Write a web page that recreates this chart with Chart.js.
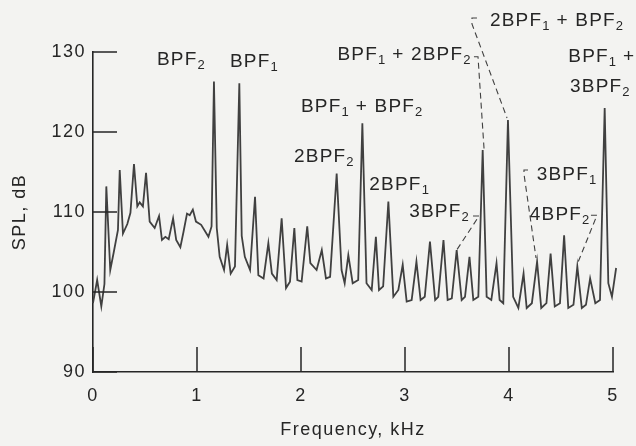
<!DOCTYPE html>
<html>
<head>
<meta charset="utf-8">
<script src="https://cdn.jsdelivr.net/npm/chart.js@4.4.1/dist/chart.umd.min.js"></script>
<style>
  html, body { margin: 0; padding: 0; background: #f3f3f1; }
  canvas { display: block; }
</style>
</head>
<body>
<canvas id="spectrum" width="636" height="446"></canvas>
<script>
// ── Spectrum data ────────────────────────────────────────────────────────────
const freqKHz = [
  0.00, 0.04, 0.08, 0.11, 0.128, 0.166, 0.20, 0.24, 0.257, 0.288,
  0.33, 0.36, 0.394, 0.426, 0.449, 0.48, 0.51, 0.545, 0.593, 0.635,
  0.663, 0.696, 0.728, 0.77, 0.80, 0.84, 0.87, 0.904, 0.93, 0.96,
  0.99, 1.04, 1.11, 1.14, 1.163, 1.19, 1.218, 1.26, 1.29, 1.324,
  1.365, 1.407, 1.43, 1.46, 1.51, 1.558, 1.59, 1.64, 1.686, 1.72,
  1.766, 1.814, 1.856, 1.894, 1.936, 1.965, 2.006, 2.06, 2.09, 2.15,
  2.20, 2.24, 2.28, 2.343, 2.39, 2.42, 2.455, 2.497, 2.55, 2.59,
  2.63, 2.68, 2.72, 2.75, 2.79, 2.84, 2.888, 2.936, 2.978, 3.016,
  3.064, 3.11, 3.15, 3.19, 3.24, 3.29, 3.32, 3.37, 3.41, 3.45,
  3.497, 3.545, 3.577, 3.62, 3.657, 3.705, 3.747, 3.785, 3.83, 3.88,
  3.91, 3.945, 3.99, 4.04, 4.09, 4.14, 4.17, 4.22, 4.27, 4.31,
  4.36, 4.40, 4.44, 4.49, 4.53, 4.57, 4.62, 4.657, 4.70, 4.74,
  4.78, 4.83, 4.875, 4.92, 4.955, 4.99, 5.03
];
const splDb = [
  98.6, 101.5, 98.2, 101.0, 113.2, 102.75, 105.0, 107.75, 115.25, 107.3,
  108.5, 109.9, 116.0, 110.7, 111.2, 110.7, 114.9, 108.8, 108.0, 109.5,
  106.5, 106.9, 106.6, 109.2, 106.5, 105.6, 107.5, 109.8, 109.6, 110.3,
  108.8, 108.4, 106.9, 108.2, 126.3, 108.0, 104.4, 102.75, 105.9, 102.3,
  103.2, 126.1, 107.0, 104.4, 102.75, 111.9, 102.1, 101.7, 106.1, 102.3,
  101.5, 109.2, 100.5, 101.3, 108.0, 101.5, 101.3, 108.2, 103.6, 102.75,
  105.25, 101.7, 101.9, 114.8, 102.75, 101.1, 104.6, 101.1, 101.5, 121.1,
  101.1, 100.25, 106.9, 100.25, 100.7, 111.3, 99.4, 100.25, 103.4, 98.8,
  99.0, 103.8, 99.0, 99.4, 106.3, 99.0, 99.4, 106.5, 99.0, 99.2,
  105.25, 99.0, 99.4, 104.4, 99.0, 99.4, 117.75, 99.4, 99.0, 103.6,
  99.0, 98.6, 121.5, 99.4, 98.0, 102.3, 98.0, 98.6, 103.8, 98.0,
  98.6, 104.8, 98.2, 98.6, 107.1, 98.0, 98.4, 103.2, 98.0, 98.4,
  101.7, 98.6, 99.0, 123.0, 101.1, 99.4, 103.0
];
const xTicks = [0, 1, 2, 3, 4, 5];
const yTicks = [90, 100, 110, 120, 130];

// ── Peak annotations: text ("_n" = subscript), anchor in data units ─────────
const peakLabels = [
  'BPF_2', 'BPF_1', 'BPF_1 + BPF_2', '2BPF_2', '2BPF_1', '3BPF_2',
  'BPF_1 + 2BPF_2', '2BPF_1 + BPF_2', 'BPF_1 +', '3BPF_2', '3BPF_1', '4BPF_2'
];
const labelX = [0.615, 1.317, 2.0, 1.933, 2.657, 3.04, 2.35, 3.817, 4.57, 4.587, 4.266, 4.20];
const labelY = [128.4, 128.1, 122.5, 116.3, 112.75, 109.4, 129.0, 133.2, 128.8, 125.0, 114.0, 109.0];

// Dashed leader lines from labels down to their peaks (data units)
const leaders = [
  [[3.654, 109.5], [3.712, 109.5], [3.50, 105.3]],
  [[3.663, 129.4], [3.702, 129.4], [3.76, 117.9]],
  [[3.692, 134.25], [3.644, 134.25], [3.644, 133.5], [3.981, 121.75]],
  [[4.183, 115.25], [4.144, 115.25], [4.144, 114.75], [4.26, 104.25]],
  [[4.788, 109.6], [4.846, 109.6], [4.654, 103.4]]
];

// ── Styles ──────────────────────────────────────────────────────────────────
const INK = '#262626';
const LINE = '#404040';
const FAMILY = "'Liberation Sans', Arial, Helvetica, sans-serif";
const MAIN_FONT = `19px ${FAMILY}`;
const SUB_FONT = `13px ${FAMILY}`;

function drawRich(ctx, text, x, y) {
  const parts = text.split(/_(\d)/);
  let cx = x;
  parts.forEach((p, i) => {
    if (!p) return;
    const sub = i % 2 === 1;
    ctx.font = sub ? SUB_FONT : MAIN_FONT;
    ctx.letterSpacing = sub ? '0.5px' : '1.2px';
    ctx.fillText(p, cx, sub ? y + 4 : y);
    cx += ctx.measureText(p).width;
  });
}

const paperPlugin = {
  id: 'paper',
  beforeDraw(chart) {
    const { ctx, width, height } = chart;
    ctx.save();
    ctx.fillStyle = '#f3f3f1';
    ctx.fillRect(0, 0, width, height);
    ctx.restore();
    // slightly tracked lettering, like the printed figure
    ctx.letterSpacing = '1.5px';
  },
  afterDraw(chart) {
    const { ctx, chartArea } = chart;
    const xs = chart.scales.x;
    const ys = chart.scales.y;
    ctx.save();

    // inward tick marks
    ctx.strokeStyle = INK;
    ctx.lineWidth = 1.5;
    ctx.beginPath();
    xTicks.forEach(v => {
      const px = xs.getPixelForValue(v);
      ctx.moveTo(px, chartArea.bottom);
      ctx.lineTo(px, chartArea.bottom - 25);
    });
    yTicks.forEach(v => {
      const py = ys.getPixelForValue(v);
      ctx.moveTo(chartArea.left, py);
      ctx.lineTo(chartArea.left + 24, py);
    });
    ctx.stroke();

    // leaders
    ctx.lineWidth = 1.1;
    ctx.strokeStyle = LINE;
    ctx.setLineDash([6, 4]);
    leaders.forEach(pts => {
      ctx.beginPath();
      pts.forEach(([x, y], i) => {
        const px = xs.getPixelForValue(x);
        const py = ys.getPixelForValue(y);
        if (i === 0) ctx.moveTo(px, py); else ctx.lineTo(px, py);
      });
      ctx.stroke();
    });
    ctx.setLineDash([]);

    // labels
    ctx.fillStyle = INK;
    ctx.textAlign = 'left';
    ctx.textBaseline = 'alphabetic';
    peakLabels.forEach((t, i) => {
      drawRich(ctx, t, xs.getPixelForValue(labelX[i]), ys.getPixelForValue(labelY[i]));
    });
    ctx.restore();
  }
};

new Chart(document.getElementById('spectrum').getContext('2d'), {
  type: 'line',
  data: {
    datasets: [{
      data: freqKHz.map((x, i) => ({ x, y: splDb[i] })),
      borderColor: LINE,
      borderWidth: 1.8,
      pointRadius: 0,
      tension: 0,
      fill: false,
      clip: false,
    }]
  },
  options: {
    responsive: false,
    animation: false,
    devicePixelRatio: 1,
    layout: { padding: { top: 52, right: 23, left: 0, bottom: 0 } },
    plugins: { legend: { display: false }, tooltip: { enabled: false } },
    scales: {
      x: {
        type: 'linear',
        min: 0,
        max: 5,
        afterBuildTicks: s => { s.ticks = xTicks.map(v => ({ value: v })); },
        afterFit: s => { s.height = 74; },
        grid: { display: false, drawTicks: false },
        border: { display: true, color: INK, width: 1.6 },
        ticks: { color: INK, font: { family: FAMILY, size: 18 }, padding: 13 },
        title: {
          display: true, text: 'Frequency, kHz', color: INK,
          font: { family: FAMILY, size: 18 }, padding: { bottom: 5 }
        }
      },
      y: {
        min: 90,
        max: 130,
        afterBuildTicks: s => { s.ticks = yTicks.map(v => ({ value: v })); },
        afterFit: s => { s.width = 93; },
        grid: { display: false, drawTicks: false },
        border: { display: true, color: INK, width: 1.6 },
        ticks: { color: INK, font: { family: FAMILY, size: 18 }, padding: 7 },
        title: {
          display: true, text: 'SPL, dB', color: INK,
          font: { family: FAMILY, size: 18 }, padding: { top: 9 }
        }
      }
    }
  },
  plugins: [paperPlugin]
});
</script>
</body>
</html>
